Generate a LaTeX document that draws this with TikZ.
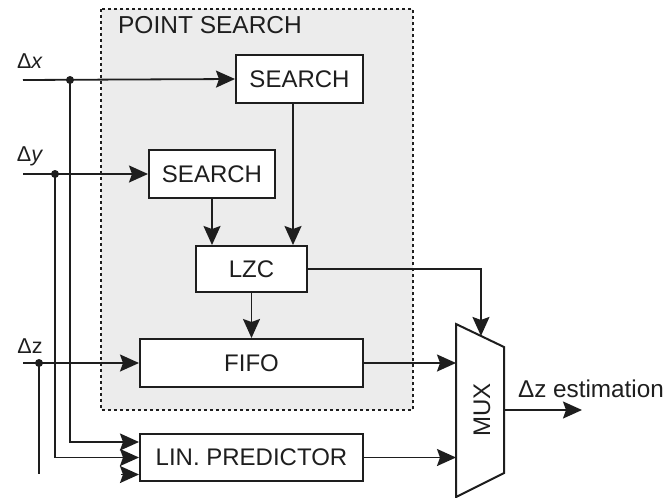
\documentclass[tikz,border=0pt]{standalone}
\usepackage{fontspec}
\setmainfont{Liberation Sans}
\usetikzlibrary{arrows.meta,calc}
\definecolor{ink}{HTML}{1E1E1E}
\definecolor{panel}{HTML}{ECECEC}
\tikzset{
  x=1pt, y=-1pt,
  blockbox/.style={draw=ink, line width=2pt, fill=white, inner sep=0pt,
    font=\fontsize{24}{26}\selectfont, text=ink},
  wire/.style={draw=ink, line width=1.8pt},
  arr/.style={wire, -{Stealth[length=19pt,width=17pt,inset=3pt]}},
  junction/.style={circle, fill=ink, inner sep=0pt, minimum size=8pt},
  sig/.style={font=\fontsize{21.5}{23}\selectfont, text=ink}
}
\begin{document}
\begin{tikzpicture}
\useasboundingbox (0,0) rectangle (667,498);

% point-search panel
\draw[fill=panel, draw=ink, line width=2pt, dash pattern=on 3pt off 3pt]
  (101,9) rectangle (413,410);
\node[font=\fontsize{24.5}{26}\selectfont, text=ink] (title) at (210,25) {POINT SEARCH};

% blocks
\node[blockbox, minimum width=127pt, minimum height=48pt] (sx) at (299.5,79) {SEARCH};
\node[blockbox, minimum width=126pt, minimum height=48pt] (sy) at (212,174) {SEARCH};
\node[blockbox, minimum width=111pt, minimum height=46pt] (lzc) at (251.5,269) {LZC};
\node[blockbox, minimum width=223pt, minimum height=48pt] (fifo) at (251.5,363) {FIFO};
\node[blockbox, minimum width=223pt, minimum height=47pt] (lin) at (251.5,457.5) {LIN. PREDICTOR};

% multiplexer
\coordinate (m1) at (456,324);
\coordinate (m2) at (504,347);
\coordinate (m3) at (504,473);
\coordinate (m4) at (456,497);
\draw[draw=ink, line width=2pt, fill=white] (m1) -- (m2) -- (m3) -- (m4) -- cycle;
\node[rotate=90, font=\fontsize{24}{26}\selectfont, text=ink] (mux) at (482,410) {MUX};
\coordinate (muxsel) at ($(m1)!0.52!(m2)$);
\coordinate (muxout) at ($(m2)!0.5!(m3)$);
\coordinate (outend) at (582,410);

% inputs
\node[sig] (lx) at (30,61) {Δ\textit{x}};
\node[sig] (ly) at (30,156) {Δ\textit{y}};
\node[sig] (lz) at (30,346) {Δz};
\coordinate (xin) at (23,80);
\coordinate (yin) at (23,174);
\coordinate (zin) at (23,363);
\node[junction] (xd) at (70,80) {};
\node[junction] (yd) at (55,174) {};
\node[junction] (zd) at (39,363) {};
\coordinate (zend) at (39,474);

\draw[arr] (xin) -- (sx.west);
\draw[arr] (yin) -- (sy.west);
\draw[arr] (zin) -- (fifo.west);

% taps to the linear predictor
\draw[arr] (xd.center) |- ([yshift=15.5pt]lin.west);
\draw[arr] (yd.center) |- (lin.west);
\draw[wire] (zd.center) -- (zend);
\draw[arr] ([xshift=-18pt,yshift=-17pt]lin.west) -- ([yshift=-17pt]lin.west);

% point-search internals
\draw[arr] (sx.south -| lzc.east) ++(-15pt,0) coordinate (sxo) -- (sxo |- lzc.north);
\draw[arr] (sy.south) -- (sy.south |- lzc.north);
\draw[arr] (lzc.south) -- (fifo.north);

% into the multiplexer
\draw[arr] (lzc.east) -| (muxsel);
\draw[arr] (fifo.east) -- (fifo.east -| m1);
\draw[arr] (lin.east) -- (lin.east -| m1);
\draw[arr] (muxout) -- (outend);
\node[font=\fontsize{24.3}{26}\selectfont, text=ink] (est) at (591,389) {Δz estimation};
\end{tikzpicture}
\end{document}
